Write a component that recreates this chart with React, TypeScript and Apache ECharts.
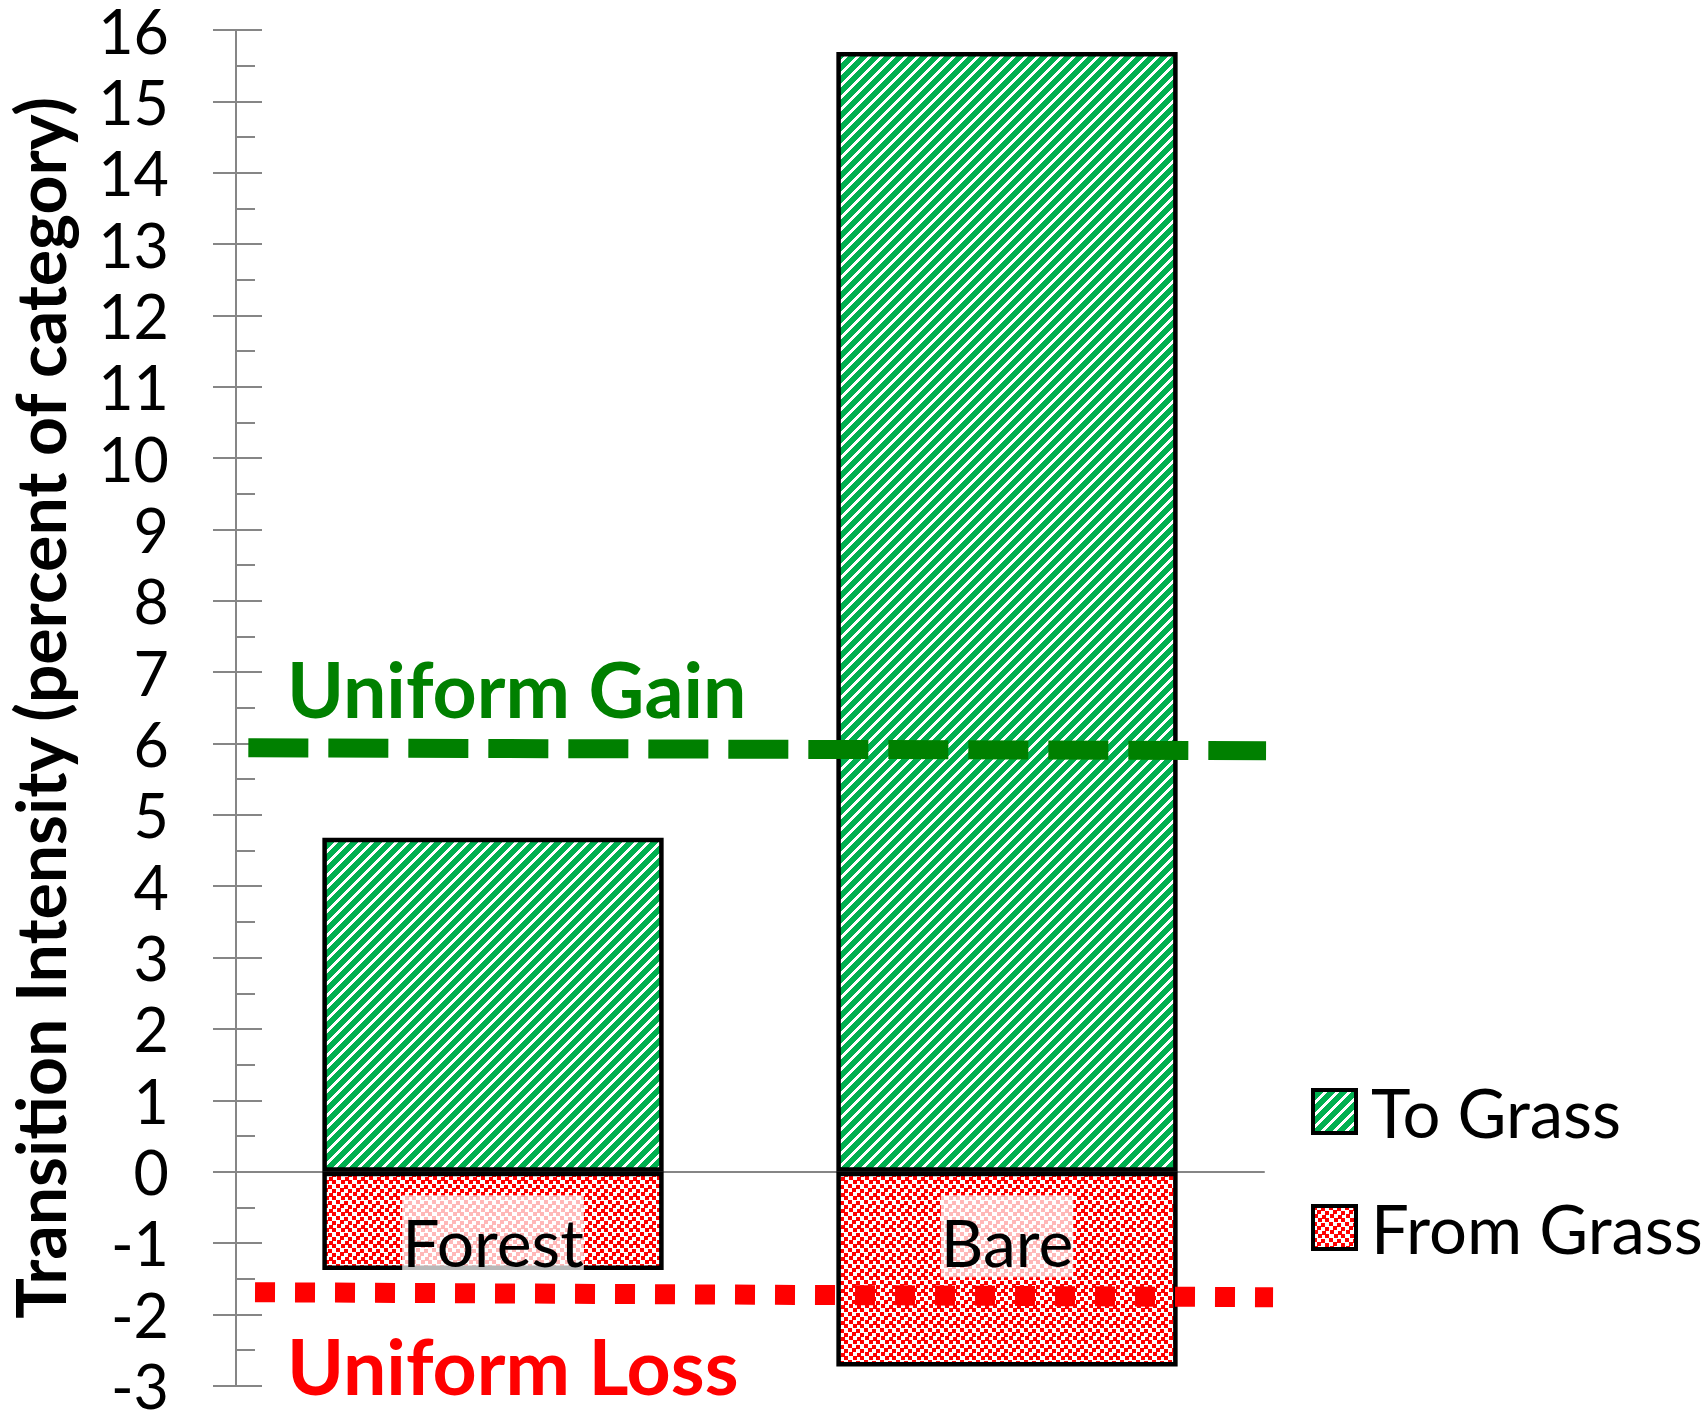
import React, { useEffect, useRef } from 'react';
import * as echarts from 'echarts';

const categories = ['Forest', 'Bare'];
const toGrass = [4.68, 15.69];
const fromGrass = [-1.38, -2.73];
const yMin = -3;
const yMax = 16;
const yStep = 1;
const gainX = [0.012, 1.002];
const gainY = [5.94, 5.9];
const lossX = [0.0185, 1.0088];
const lossY = [-1.69, -1.76];
const legendNames = ['To Grass', 'From Grass'];
const yTitle = 'Transition Intensity (percent of category)';
const gainLabel = 'Uniform Gain';
const lossLabel = 'Uniform Loss';

const FONT = 'Lato';

function stripeCanvas(n: number) {
  const c = document.createElement('canvas');
  c.width = n;
  c.height = n;
  const ctx = c.getContext('2d')!;
  ctx.fillStyle = '#00B050';
  ctx.fillRect(0, 0, n, n);
  ctx.fillStyle = '#FFFFFF';
  for (let y = 0; y < n; y++) {
    for (let x = 0; x < n; x++) {
      if ((x + y) % n < 4) ctx.fillRect(x, y, 1, 1);
    }
  }
  return c;
}

function dotCanvas(n: number) {
  const c = document.createElement('canvas');
  c.width = n;
  c.height = n;
  const ctx = c.getContext('2d')!;
  ctx.fillStyle = '#FFFFFF';
  ctx.fillRect(0, 0, n, n);
  ctx.fillStyle = '#FF0000';
  const spots = [
    [0, 0], [8, 1], [4, 4], [12, 5], [1, 8], [9, 9], [5, 12], [12, 12],
  ];
  spots.forEach(([x, y]) => ctx.fillRect(x, y, 4, 4));
  return c;
}

export default function App() {
  const ref = useRef<HTMLDivElement>(null);
  useEffect(() => {
    const chart = echarts.init(ref.current!, null, { renderer: 'svg' });
    const stripes: any = { image: stripeCanvas(12), repeat: 'repeat', imageWidth: 12, imageHeight: 12 };
    const dots: any = { image: dotCanvas(16), repeat: 'repeat', imageWidth: 16, imageHeight: 16 };
    const gray = '#868686';
    const option: any = {
      animation: false,
      backgroundColor: '#ffffff',
      textStyle: { fontFamily: FONT },
      grid: { left: 236, top: 30, width: 1028, height: 1355.7, containLabel: false, outerBoundsMode: 'none' },
      legend: {
        data: legendNames,
        orient: 'vertical',
        left: 1306,
        top: 1073,
        itemWidth: 43,
        itemHeight: 43,
        itemGap: 49,
        icon: 'rect',
        selectedMode: false,
        itemStyle: { borderColor: '#000', borderWidth: 4 },
        textStyle: { fontSize: 67, color: '#000', fontFamily: FONT, padding: [0, 0, 0, 10] },
      },
      xAxis: [
        {
          type: 'category',
          data: categories,
          position: 'bottom',
          axisLine: { show: true, onZero: true, lineStyle: { color: gray, width: 2 } },
          axisTick: { show: false },
          axisLabel: { show: false },
          splitLine: { show: false },
        },
        {
          type: 'value',
          min: 0,
          max: 1,
          position: 'bottom',
          show: false,
          axisLine: { onZero: false },
        },
      ],
      yAxis: [
        {
          type: 'value',
          min: yMin,
          max: yMax,
          interval: yStep,
          position: 'left',
          axisLine: { show: true, onZero: false, lineStyle: { color: gray, width: 2 } },
          axisTick: { show: true, length: 23, lineStyle: { color: gray, width: 2 } },
          axisLabel: { margin: 67, fontSize: 61, color: '#000', fontFamily: FONT },
          splitLine: { show: false },
          name: yTitle,
          nameLocation: 'middle',
          nameGap: 163,
          nameTextStyle: { fontSize: 68, fontWeight: 'bold', color: '#000', fontFamily: FONT },
        },
        {
          type: 'value',
          min: yMin,
          max: yMax,
          interval: yStep,
          position: 'left',
          offset: 0,
          axisLine: { show: false, onZero: false },
          axisTick: { show: true, inside: true, length: 26, lineStyle: { color: gray, width: 2 } },
          minorTick: { show: true, splitNumber: 2, length: 19, lineStyle: { color: gray, width: 2 } },
          axisLabel: { show: false },
          splitLine: { show: false },
        },
      ],
      series: [
        {
          name: legendNames[0],
          type: 'bar',
          xAxisIndex: 0,
          yAxisIndex: 0,
          stack: 'grass',
          data: toGrass,
          barCategoryGap: '33.6%',
          itemStyle: { color: stripes, borderColor: '#000', borderWidth: 4.5 },
        },
        {
          name: legendNames[1],
          type: 'bar',
          xAxisIndex: 0,
          yAxisIndex: 0,
          stack: 'grass',
          data: fromGrass,
          barCategoryGap: '33.6%',
          itemStyle: { color: dots, borderColor: '#000', borderWidth: 4.5 },
        },
        {
          name: gainLabel,
          type: 'line',
          xAxisIndex: 1,
          yAxisIndex: 0,
          data: gainX.map((x, i) => [x, gainY[i]]),
          symbol: 'none',
          clip: false,
          z: 5,
          lineStyle: { color: '#008000', width: 19, type: [60, 20], cap: 'butt' },
        },
        {
          name: lossLabel,
          type: 'line',
          xAxisIndex: 1,
          yAxisIndex: 0,
          data: lossX.map((x, i) => [x, lossY[i]]),
          symbol: 'none',
          clip: false,
          z: 5,
          lineStyle: { color: '#FF0000', width: 20, type: [20, 20], cap: 'butt' },
        },
        {
          name: 'categoryLabels',
          type: 'scatter',
          xAxisIndex: 0,
          yAxisIndex: 0,
          z: 4,
          symbol: 'rect',
          symbolSize: 1,
          itemStyle: { color: 'rgba(255,255,255,0)' },
          silent: true,
          data: categories.map((c) => ({ name: c, value: [c, 0] })),
          label: {
            show: true,
            position: 'bottom',
            distance: 23,
            formatter: '{b}',
            fontSize: 66,
            color: '#000',
            opacity: 1,
            fontFamily: FONT,
            backgroundColor: 'rgba(255,255,255,0.72)',
            padding: [14, 0, 4, 0],
            lineHeight: 64,
          },
        },
      ],
      graphic: [
        {
          type: 'text',
          x: 287,
          y: 688,
          z: 20,
          style: {
            text: gainLabel,
            fill: '#008000',
            fontSize: 77,
            fontWeight: 'bold',
            fontFamily: FONT,
            textAlign: 'left',
            textVerticalAlign: 'middle',
          },
        },
        {
          type: 'text',
          x: 287,
          y: 1365,
          z: 20,
          style: {
            text: lossLabel,
            fill: '#FF0000',
            fontSize: 77,
            fontWeight: 'bold',
            fontFamily: FONT,
            textAlign: 'left',
            textVerticalAlign: 'middle',
          },
        },
      ],
    };
    chart.setOption(option);
    return () => chart.dispose();
  }, []);
  return (
    <div
      ref={ref}
      style={{ position: 'fixed', left: 0, top: 0, width: 1708, height: 1410, background: '#fff' }}
    />
  );
}
